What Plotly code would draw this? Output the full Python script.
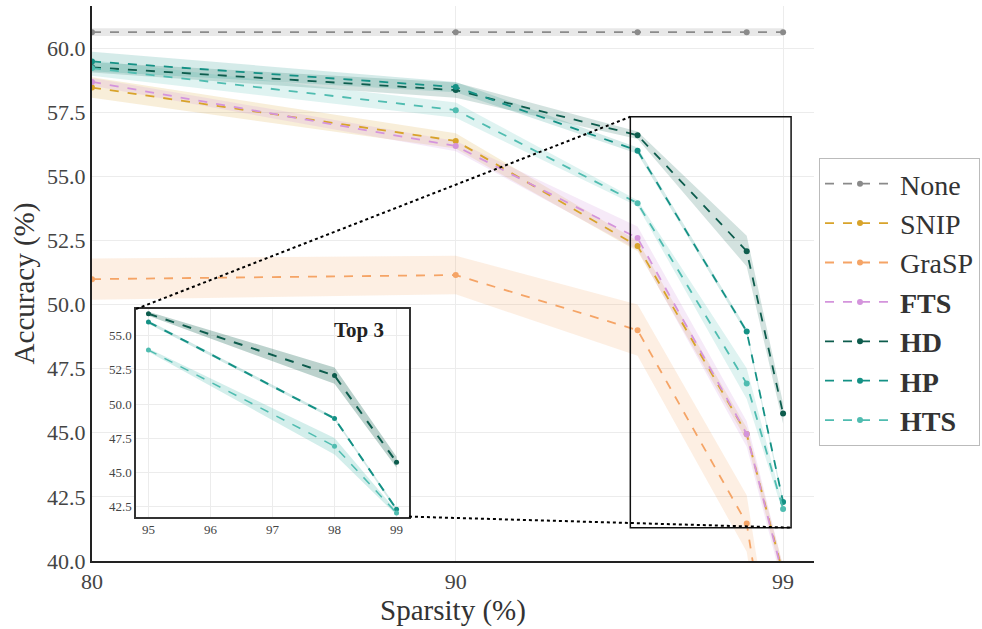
import plotly.graph_objects as go

# ---------------- data ----------------
sparsity = [80, 90, 95, 98, 99]
methods = ["None", "SNIP", "GraSP", "FTS", "HD", "HP", "HTS"]
acc_none = [60.62, 60.62, 60.62, 60.62, 60.62]
acc_snip = [58.46, 56.38, 52.28, 44.95, 39.5]
acc_grasp = [50.99, 51.15, 49.0, 41.46, 32.5]
acc_fts = [58.68, 56.18, 52.59, 44.95, 39.4]
acc_hd = [59.25, 58.36, 56.6, 52.08, 45.75]
acc_hp = [59.48, 58.48, 56.0, 48.95, 42.3]
acc_hts = [59.22, 57.58, 53.95, 46.92, 42.03]

std_none = [0.15, 0.15, 0.15, 0.15, 0.15]
std_snip = [0.4, 0.3, 0.2, 0.25, 0.3]
std_grasp = [0.8, 0.75, 1.0, 1.1, 1.2]
std_fts = [0.15, 0.2, 0.45, 0.5, 0.4]
std_hd = [0.2, 0.3, 0.15, 0.6, 0.4]
std_hp = [0.38, 0.2, 0.12, 0.1, 0.12]
std_hts = [0.3, 0.3, 0.12, 0.6, 0.15]

x_ticks = [80, 90, 99]
inset_x_ticks = [95, 96, 97, 98, 99]
inset_y_ticks = [42.5, 45.0, 47.5, 50.0, 52.5, 55.0]
top3 = ["HD", "HP", "HTS"]

series = {
    "None": (acc_none, std_none),
    "SNIP": (acc_snip, std_snip),
    "GraSP": (acc_grasp, std_grasp),
    "FTS": (acc_fts, std_fts),
    "HD": (acc_hd, std_hd),
    "HP": (acc_hp, std_hp),
    "HTS": (acc_hts, std_hts),
}
colors = {
    "None": "#8a8a8a",
    "SNIP": "#d8a32a",
    "GraSP": "#f5a466",
    "FTS": "#d494dc",
    "HD": "#0d5c4d",
    "HP": "#149185",
    "HTS": "#4fbcb0",
}
band_alpha = {"None": 0.2, "SNIP": 0.18, "GraSP": 0.18, "FTS": 0.2,
              "HD": 0.18, "HP": 0.18, "HTS": 0.18}
inset_band_alpha = {"HD": 0.28, "HP": 0.2, "HTS": 0.25}
bold = {"FTS", "HD", "HP", "HTS"}


def rgba(hexc, a):
    h = hexc.lstrip("#")
    r, g, b = int(h[0:2], 16), int(h[2:4], 16), int(h[4:6], 16)
    return f"rgba({r},{g},{b},{a})"


# ---------------- layout constants ----------------
W, H = 982, 629
ML, MR, MT, MB = 92, 168, 6, 68
XR = [80, 99.85]
YR = [40, 61.64]
INSET_XDOM = [0.061, 0.439]
INSET_YDOM = [0.080, 0.454]
INSET_XR = [94.8, 99.2]
INSET_YR = [41.77, 56.95]
ZOOM_BOX = dict(x0=94.8, x1=99.22, y0=41.3, y1=57.32)

TICK_FONT = dict(family="Liberation Serif", size=22, color="#444444")
TITLE_FONT = dict(family="Liberation Serif", size=29, color="#333333")
GRID = "#ececec"

fig = go.Figure()

# bands + lines on main axes
for m in methods:
    y, s = series[m]
    up = [a + b for a, b in zip(y, s)]
    lo = [a - b for a, b in zip(y, s)]
    fig.add_trace(go.Scatter(
        x=sparsity + sparsity[::-1], y=up + lo[::-1], fill="toself", mode="lines",
        fillcolor=rgba(colors[m], band_alpha[m]), line=dict(width=0),
        hoverinfo="skip", showlegend=False, xaxis="x", yaxis="y"))

for m in methods:
    y, s = series[m]
    fig.add_trace(go.Scatter(
        x=sparsity, y=y, mode="lines+markers",
        name=f"<b>{m}</b>" if m in bold else m,
        line=dict(color=colors[m], width=1.8, dash="dash"),
        marker=dict(color=colors[m], size=6),
        xaxis="x", yaxis="y"))

# inset
for m in top3:
    y, s = series[m]
    xs, ys, ss = sparsity[2:], y[2:], s[2:]
    up = [a + b for a, b in zip(ys, ss)]
    lo = [a - b for a, b in zip(ys, ss)]
    fig.add_trace(go.Scatter(
        x=xs + xs[::-1], y=up + lo[::-1], fill="toself", mode="lines",
        fillcolor=rgba(colors[m], inset_band_alpha[m]), line=dict(width=0),
        hoverinfo="skip", showlegend=False, xaxis="x2", yaxis="y2"))
for m in top3:
    y, s = series[m]
    fig.add_trace(go.Scatter(
        x=sparsity[2:], y=y[2:], mode="lines+markers", showlegend=False,
        line=dict(color=colors[m], width=2 if m != "HTS" else 1.5, dash="dash"),
        marker=dict(color=colors[m], size=5),
        xaxis="x2", yaxis="y2"))


def xmain(f):
    return XR[0] + f * (XR[1] - XR[0])


def ymain(f):
    return YR[0] + f * (YR[1] - YR[0])


shapes = [
    dict(type="rect", xref="x", yref="y", layer="above",
         line=dict(color="#111111", width=1.5), fillcolor="rgba(0,0,0,0)", **ZOOM_BOX),
    dict(type="line", xref="x", yref="y", layer="above",
         x0=xmain(INSET_XDOM[0]), y0=ymain(INSET_YDOM[1]),
         x1=ZOOM_BOX["x0"], y1=ZOOM_BOX["y1"],
         line=dict(color="black", width=2, dash="dot")),
    dict(type="line", xref="x", yref="y", layer="above",
         x0=xmain(INSET_XDOM[1]), y0=ymain(INSET_YDOM[0]),
         x1=ZOOM_BOX["x1"], y1=ZOOM_BOX["y0"],
         line=dict(color="black", width=2, dash="dot")),
]

fig.update_layout(
    width=W, height=H,
    margin=dict(l=ML, r=MR, t=MT, b=MB, autoexpand=False),
    paper_bgcolor="white", plot_bgcolor="white",
    showlegend=True,
    legend=dict(
        x=(819 - ML) / (W - ML - MR), y=(H - MB - 158) / (H - MT - MB),
        xanchor="left", yanchor="top",
        font=dict(family="Liberation Serif", size=28, color="#333333"),
        bordercolor="#bbbbbb", borderwidth=1, bgcolor="white",
        itemwidth=70,
    ),
    xaxis=dict(
        range=XR, tickvals=x_ticks, ticktext=[str(v) for v in x_ticks],
        showgrid=True, gridcolor=GRID, gridwidth=1, zeroline=False,
        showline=True, linecolor="#222222", linewidth=2,
        ticks="", tickfont=TICK_FONT, ticklen=0,
        title=dict(text="Sparsity (%)", font=TITLE_FONT, standoff=4),
    ),
    yaxis=dict(
        range=YR, tick0=40, dtick=2.5, tickformat=".1f",
        showgrid=True, gridcolor=GRID, gridwidth=1, zeroline=False,
        showline=True, linecolor="#222222", linewidth=2,
        ticks="", tickfont=TICK_FONT,
        title=dict(text="Accuracy (%)", font=TITLE_FONT, standoff=4),
    ),
    xaxis2=dict(
        domain=INSET_XDOM, anchor="y2", range=INSET_XR, tickvals=inset_x_ticks,
        showgrid=True, gridcolor=GRID, zeroline=False,
        showline=True, mirror=True, linecolor="#333333", linewidth=1.5,
        ticks="", tickfont=dict(family="Liberation Serif", size=13, color="#444444"),
    ),
    yaxis2=dict(
        domain=INSET_YDOM, anchor="x2", range=INSET_YR, tickvals=inset_y_ticks,
        tickformat=".1f",
        showgrid=True, gridcolor=GRID, zeroline=False,
        showline=True, mirror=True, linecolor="#333333", linewidth=1.5,
        ticks="", tickfont=dict(family="Liberation Serif", size=13, color="#444444"),
    ),
    shapes=shapes,
    annotations=[dict(
        text="<b>Top 3</b>", xref="x2 domain", yref="y2 domain",
        x=0.915, y=0.965, xanchor="right", yanchor="top", showarrow=False,
        font=dict(family="Liberation Serif", size=21, color="#222222"))],
)

fig.write_html("out.html")
